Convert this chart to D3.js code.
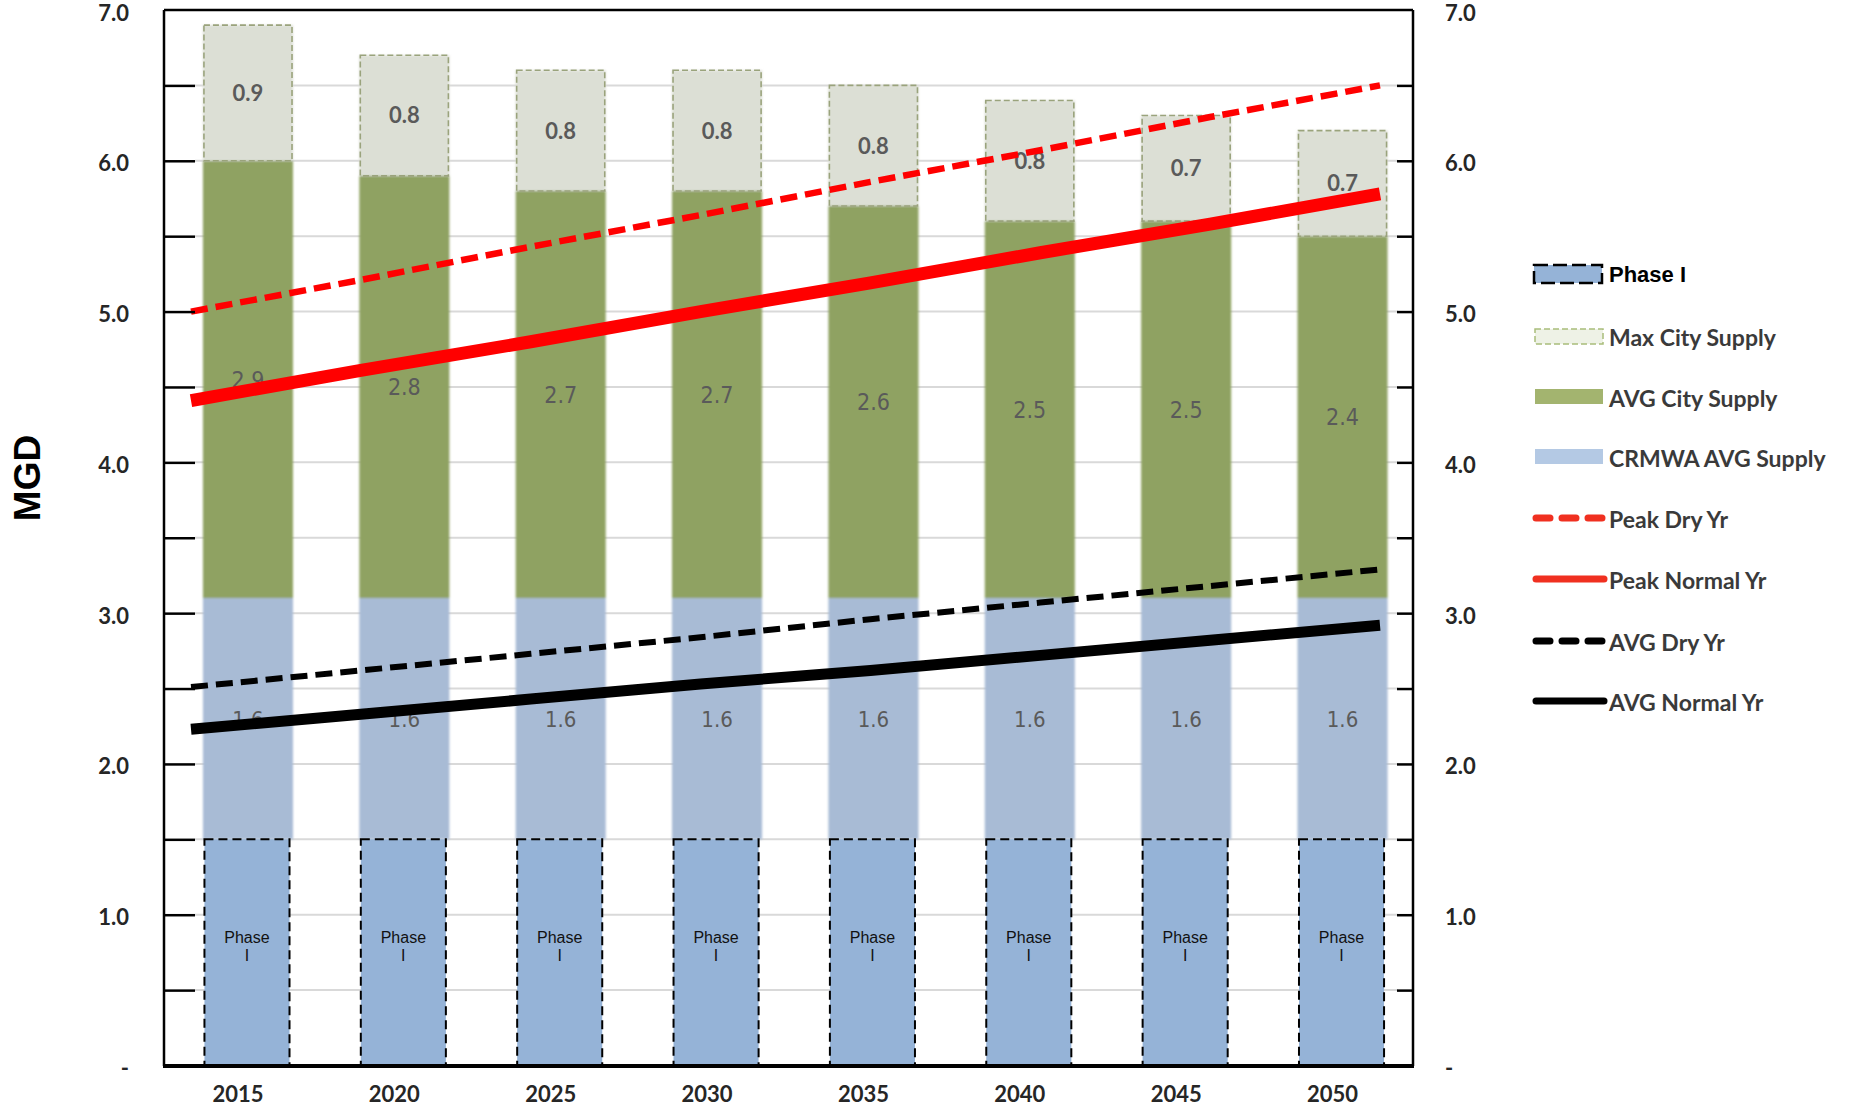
<!DOCTYPE html>
<html>
<head>
<meta charset="utf-8">
<script src="https://cdn.jsdelivr.net/npm/d3@7"></script>
<style>
  html, body { margin: 0; padding: 0; background: #ffffff; }
  svg { display: block; }
</style>
</head>
<body>
<svg id="chart" width="1849" height="1106"></svg>
<script>
// ---- Supply and demand projections (MGD) ----
const years = ["2015", "2020", "2025", "2030", "2035", "2040", "2045", "2050"];

// Stacked supply components
const phaseI    = [1.5, 1.5, 1.5, 1.5, 1.5, 1.5, 1.5, 1.5];
const crmwaAvg  = [1.6, 1.6, 1.6, 1.6, 1.6, 1.6, 1.6, 1.6];
const cityAvg   = [2.9, 2.8, 2.7, 2.7, 2.6, 2.5, 2.5, 2.4];
const cityMax   = [0.9, 0.8, 0.8, 0.8, 0.8, 0.8, 0.7, 0.7];

// Demand lines
const peakDry    = [5.00, 5.21, 5.43, 5.64, 5.86, 6.07, 6.29, 6.50];
const peakNormal = [4.41, 4.61, 4.80, 5.00, 5.19, 5.39, 5.58, 5.78];
const avgDry     = [2.51, 2.62, 2.73, 2.84, 2.96, 3.07, 3.18, 3.29];
const avgNormal  = [2.23, 2.33, 2.43, 2.53, 2.62, 2.72, 2.82, 2.92];

// Axis ticks
const yTicks      = [0, 1, 2, 3, 4, 5, 6, 7];
const yTickLabels = ["-", "1.0", "2.0", "3.0", "4.0", "5.0", "6.0", "7.0"];
const yMinorTicks = [0.5, 1, 1.5, 2, 2.5, 3, 3.5, 4, 4.5, 5, 5.5, 6, 6.5];

const legendLabels = ["Phase I", "Max City Supply", "AVG City Supply", "CRMWA AVG Supply",
                      "Peak Dry Yr", "Peak Normal Yr", "AVG Dry Yr", "AVG Normal Yr"];

// ---- Styles ----
const COL = {
  phase: "#95b3d7",
  crmwa: "#a8bbd5",
  city:  "#8fa262",
  max:   "#dcdfd5",
  maxStroke: "#9aa37c",
  red: "#ff0000",
  black: "#000000",
  grid: "#d9d9d9",
  label: "#5a5a5a",
  axisText: "#262626"
};
const numFont = "Lato, 'Open Sans', sans-serif";
const narrowFont = "'Liberation Sans Narrow', 'DejaVu Sans Condensed', 'Liberation Sans', sans-serif";

const svg = d3.select("#chart");

const defs = svg.append("defs");
defs.append("filter").attr("id", "soft")
  .attr("x", "-5%").attr("y", "-5%").attr("width", "110%").attr("height", "110%")
  .append("feGaussianBlur").attr("stdDeviation", 0.8);

// ---- Scales ----
const plot = { left: 164, right: 1413, top: 10, bottom: 1066 };
const x = d3.scaleBand().domain(years)
  .range([169.8, 1420.7]).paddingInner(0.424).paddingOuter(0.212);
const y = d3.scaleLinear().domain([0, 7]).range([1065.5, 10]);
const xLine = d3.scalePoint().domain(years).range([191, 1380]);

// ---- Gridlines ----
svg.append("g").selectAll("line").data(yMinorTicks).join("line")
  .attr("x1", 195).attr("x2", 1398)
  .attr("y1", d => y(d)).attr("y2", d => y(d))
  .attr("stroke", COL.grid).attr("stroke-width", 2);

// ---- Stacked bars ----
const rows = years.map((yr, i) => ({
  year: yr, phase: phaseI[i], crmwa: crmwaAvg[i], city: cityAvg[i], max: cityMax[i]
}));
const keys = ["phase", "crmwa", "city", "max"];
const series = d3.stack().keys(keys)(rows);
const byKey = {};
series.forEach(s => { byKey[s.key] = s; });

const barsG = svg.append("g").attr("filter", "url(#soft)");
["crmwa", "city", "max"].forEach(k => {
  barsG.append("g").selectAll("rect").data(byKey[k]).join("rect")
    .attr("x", d => x(d.data.year))
    .attr("width", x.bandwidth())
    .attr("y", d => y(d[1]))
    .attr("height", d => y(d[0]) - y(d[1]))
    .attr("fill", COL[k]);
});

// Max City Supply dashed outline
svg.append("g").selectAll("rect").data(byKey.max).join("rect")
  .attr("x", d => x(d.data.year) + 1)
  .attr("width", x.bandwidth() - 2)
  .attr("y", d => y(d[1]))
  .attr("height", d => y(d[0]) - y(d[1]))
  .attr("fill", "none")
  .attr("stroke", COL.maxStroke).attr("stroke-width", 1.6)
  .attr("stroke-dasharray", "6,3");

// Phase I boxes
svg.append("g").selectAll("rect").data(byKey.phase).join("rect")
  .attr("x", d => x(d.data.year) + 1.5)
  .attr("width", x.bandwidth() - 5)
  .attr("y", d => y(d[1]))
  .attr("height", d => y(d[0]) - y(d[1]))
  .attr("fill", COL.phase)
  .attr("stroke", "#000").attr("stroke-width", 2)
  .attr("stroke-dasharray", "9,5");

// Phase I text
const phaseText = svg.append("g").selectAll("text").data(byKey.phase).join("text")
  .attr("x", d => x(d.data.year) + (x.bandwidth() - 2) / 2)
  .attr("y", d => y((d[0] + d[1]) / 2) - 9)
  .attr("text-anchor", "middle")
  .attr("font-family", "'Liberation Sans', Arial, sans-serif")
  .attr("font-size", 16).attr("fill", "#111");
phaseText.append("tspan").text("Phase");
phaseText.append("tspan")
  .attr("x", d => x(d.data.year) + (x.bandwidth() - 2) / 2)
  .attr("dy", 18).text("I");

// Value labels
const fmt = d3.format(".1f");
function valueLabels(key, font, weight, size) {
  svg.append("g").selectAll("text").data(byKey[key]).join("text")
    .attr("x", d => x(d.data.year) + x.bandwidth() / 2)
    .attr("y", d => y((d[0] + d[1]) / 2))
    .attr("dy", "0.36em")
    .attr("text-anchor", "middle")
    .attr("font-family", font)
    .attr("font-weight", weight)
    .attr("font-size", size)
    .attr("fill", COL.label)
    .text(d => fmt(d[1] - d[0]));
}
valueLabels("crmwa", narrowFont, 400, 22);
valueLabels("city", narrowFont, 400, 23);
valueLabels("max", numFont, 700, 22);

// ---- Demand lines ----
const lineGen = vals => d3.line()
  .x((d, i) => xLine(years[i]))
  .y(d => y(d))(vals);

const lineSpecs = [
  { vals: avgDry,     color: COL.black, width: 6,  dash: "17,8" },
  { vals: avgNormal,  color: COL.black, width: 11, dash: null },
  { vals: peakDry,    color: COL.red,   width: 6.5, dash: "17,8" },
  { vals: peakNormal, color: COL.red,   width: 13, dash: null }
];
lineSpecs.forEach(s => {
  svg.append("path")
    .attr("d", lineGen(s.vals))
    .attr("fill", "none")
    .attr("stroke", s.color)
    .attr("stroke-width", s.width)
    .attr("stroke-dasharray", s.dash);
});

// ---- Frame and axes ----
const frame = svg.append("g");
frame.append("line").attr("x1", plot.left).attr("x2", plot.right)
  .attr("y1", plot.top).attr("y2", plot.top)
  .attr("stroke", "#000").attr("stroke-width", 2.5);
frame.append("line").attr("x1", plot.left).attr("x2", plot.left)
  .attr("y1", plot.top).attr("y2", plot.bottom)
  .attr("stroke", "#000").attr("stroke-width", 2.5);
frame.append("line").attr("x1", plot.right).attr("x2", plot.right)
  .attr("y1", plot.top).attr("y2", plot.bottom)
  .attr("stroke", "#000").attr("stroke-width", 2.5);
frame.append("line").attr("x1", plot.left - 1).attr("x2", plot.right + 1)
  .attr("y1", plot.bottom).attr("y2", plot.bottom)
  .attr("stroke", "#000").attr("stroke-width", 4);

// Inward tick marks
const leftTicks = svg.append("g").attr("transform", `translate(${plot.left},0)`)
  .call(d3.axisLeft(y).tickValues(yMinorTicks).tickSize(-31).tickFormat(""));
leftTicks.select(".domain").remove();
leftTicks.selectAll("line").attr("stroke", "#000").attr("stroke-width", 2.5);

const rightTicks = svg.append("g").attr("transform", `translate(${plot.right},0)`)
  .call(d3.axisRight(y).tickValues(yMinorTicks).tickSize(-16).tickFormat(""));
rightTicks.select(".domain").remove();
rightTicks.selectAll("line").attr("stroke", "#000").attr("stroke-width", 2.5);

// Tick labels
function styleAxisText(g) {
  g.select(".domain").remove();
  g.selectAll("text")
    .attr("font-family", numFont)
    .attr("font-weight", 700)
    .attr("font-size", 22)
    .attr("fill", COL.axisText);
}
svg.append("g").attr("transform", "translate(129,3)")
  .call(d3.axisLeft(y).tickValues(yTicks).tickSize(0).tickPadding(0)
    .tickFormat((d, i) => yTickLabels[i]))
  .call(styleAxisText);
svg.append("g").attr("transform", "translate(1445,3)")
  .call(d3.axisRight(y).tickValues(yTicks).tickSize(0).tickPadding(0)
    .tickFormat((d, i) => yTickLabels[i]))
  .call(styleAxisText);
svg.append("g").attr("transform", `translate(-10,${plot.bottom})`)
  .call(d3.axisBottom(x).tickSize(0).tickPadding(20))
  .call(styleAxisText);

// Y axis title
svg.append("text")
  .attr("transform", "translate(40,478) rotate(-90)")
  .attr("text-anchor", "middle")
  .attr("font-family", "'Liberation Sans', Arial, sans-serif")
  .attr("font-weight", 700).attr("font-size", 37)
  .attr("fill", "#000")
  .text("MGD");

// ---- Legend ----
const legend = svg.append("g");
const legY = [274, 338, 399, 459, 520, 581, 643, 703];
const sx0 = 1534, sx1 = 1602;
legY.forEach((ly, i) => {
  const g = legend.append("g");
  if (i === 0) {
    g.append("rect").attr("x", sx0).attr("y", ly - 9).attr("width", sx1 - sx0).attr("height", 18)
      .attr("fill", COL.phase).attr("stroke", "#000").attr("stroke-width", 2.5)
      .attr("stroke-dasharray", "14,5");
  } else if (i === 1) {
    g.append("rect").attr("x", sx0 + 1).attr("y", ly - 9).attr("width", sx1 - sx0).attr("height", 15)
      .attr("fill", "#eef2e6").attr("stroke", "#a9bd7b").attr("stroke-width", 1.5)
      .attr("stroke-dasharray", "6,3");
  } else if (i === 2) {
    g.append("rect").attr("x", sx0 + 1).attr("y", ly - 10).attr("width", sx1 - sx0).attr("height", 15)
      .attr("fill", "#a3b46f");
  } else if (i === 3) {
    g.append("rect").attr("x", sx0 + 1).attr("y", ly - 10).attr("width", sx1 - sx0).attr("height", 15)
      .attr("fill", "#b4c9e4");
  } else {
    const isRed = i === 4 || i === 5;
    const dashed = i === 4 || i === 6;
    g.append("line").attr("x1", sx0 + 2).attr("x2", sx1 + 2).attr("y1", ly - 2).attr("y2", ly - 2)
      .attr("stroke", isRed ? "#f03020" : "#000")
      .attr("stroke-width", 7)
      .attr("stroke-linecap", "round")
      .attr("stroke-dasharray", dashed ? "14,12" : null);
  }
  const t = g.append("text")
    .attr("x", 1609).attr("y", ly).attr("dy", "0.35em")
    .text(legendLabels[i]);
  if (i === 0) {
    t.attr("font-family", "'Liberation Sans', Arial, sans-serif")
      .attr("font-weight", 700).attr("font-size", 22).attr("fill", "#000");
  } else {
    t.attr("font-family", numFont)
      .attr("font-weight", 700).attr("font-size", 23).attr("fill", "#3a3a3a");
  }
});
</script>
</body>
</html>
